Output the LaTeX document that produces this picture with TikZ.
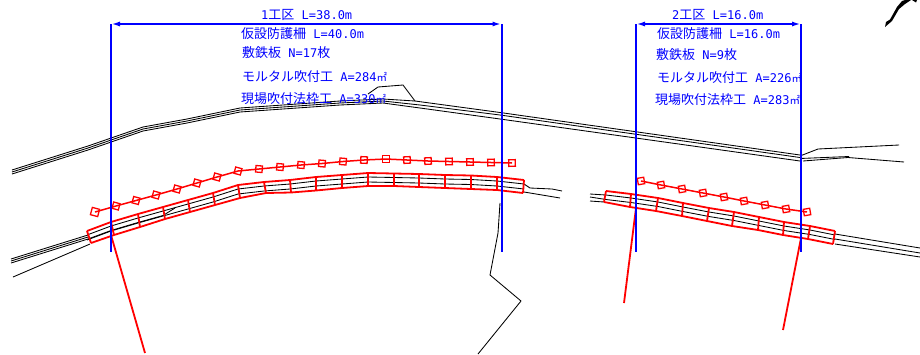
\documentclass[tikz,border=0pt]{standalone}
\usepackage{fontspec}
\newfontfamily\jpfont{Noto Sans CJK JP}
\newfontfamily\latf{DejaVu Sans Mono}
\newcommand{\lat}[1]{{\latf\fontsize{12}{12}\selectfont #1}}
\newcommand{\sqm}{{\fontsize{10.5}{10.5}\selectfont ㎡}}
\usetikzlibrary{arrows.meta}
\tikzset{
  blk/.style={draw=black,line width=0.85pt,line join=round},
  redl/.style={draw=red,line width=1.8pt,line join=miter},
  bluel/.style={draw=blue,line width=2pt},
  dimen/.style={bluel,{Latex[length=9pt,width=5pt]}-{Latex[length=9pt,width=5pt]}},
  lbl/.style={text=blue,anchor=west,inner sep=0pt,font=\jpfont\fontsize{13}{13}\selectfont},
  post/.style={draw=red,line width=1.3pt,minimum size=6.5pt,inner sep=0pt,rectangle},
}
\newcommand{\edgeOne}{(87,231) -- (111,222) -- (138,214) -- (163,207) -- (188,200) -- (213,193) -- (238,185) -- (264,182) -- (290,180) -- (316,177) -- (342,175) -- (368,173) -- (394,173.5) -- (419,174) -- (445,175) -- (471,175.5) -- (497,177) -- (524,180)}
\newcommand{\edgeOneB}{(91,243) -- (114,235) -- (140,227) -- (165,219) -- (190,212) -- (215,205) -- (240,198) -- (266,193) -- (291,192.5) -- (316,190.5) -- (342,188) -- (368,186) -- (394,186) -- (419,187) -- (445,188) -- (471,189) -- (497,190) -- (523,193)}
\newcommand{\edgeTwo}{(606,191) -- (631,194) -- (658,198) -- (683,203) -- (709,208) -- (734,212) -- (759,217) -- (784,222) -- (810,226) -- (835,231)}
\newcommand{\edgeTwoB}{(604,202) -- (630,207) -- (656,211) -- (682,216) -- (707,221) -- (732,226) -- (758,230) -- (783,235) -- (808,239) -- (833,244)}
\begin{document}
\begin{tikzpicture}[x=1pt,y=-1pt]
\useasboundingbox (0,0) rectangle (920,354);
% upper road
\draw[blk] (12,170) -- (88,146) -- (143,127) -- (187,119) -- (240,108) -- (340,101) -- (383,99) -- (415,101) -- (500,112.5) -- (800,155);
\draw[blk] (12,172) -- (88,148) -- (143,129) -- (187,121) -- (240,110) -- (340,103) -- (383,101) -- (420,105) -- (500,115) -- (800,157.5);
\draw[blk] (12,174) -- (88,150) -- (143,131) -- (187,123) -- (240,112) -- (340,105) -- (383,103) -- (420,108) -- (500,119) -- (800,161);
\draw[blk] (368,94) -- (378,87) -- (403,85) -- (415,101);
\draw[blk] (800,156) -- (818,149) -- (899,145);
\draw[blk] (800,158.5) -- (849,156.5);
\draw[blk] (803,161) -- (848,157.5) -- (904,162);
% lower road
\draw[blk] (11,259) -- (88,235);
\draw[blk] (11,261) -- (88,237);
\draw[blk] (11,263) -- (88,239);
\draw[blk] (13,277) -- (90,244);
\begin{scope}
\clip (87,170) rectangle (524,240);
\draw[blk,yshift=-4pt] \edgeOne;
\draw[blk,yshift=-9pt] \edgeOne;
\end{scope}
\draw[blk] (88,239) -- (111,230.5) -- (138,222.5) -- (163,215.5) -- (175,208);
\draw[blk] (524,184) -- (530,188) -- (552,189) -- (562,191);
\draw[blk] (524,192) -- (560,198);
\draw[blk] (590,194) -- (606,195);
\draw[blk] (590,197) -- (606,199.5);
\draw[blk] (590,201) -- (604,202);
\draw[blk,yshift=-4pt] \edgeTwo;
\draw[blk,yshift=-8.5pt] \edgeTwo;
\draw[blk] (835,234) -- (920,248);
\draw[blk] (835,239) -- (920,253);
\draw[blk] (835,244) -- (920,257);
% cliff line
\draw[blk] (500,203) -- (498,233) -- (490,275) -- (521,301) -- (478,354);
% blocks strip 1
\draw[redl] (87,231) -- (91,243);
\draw[redl] \edgeOne; \draw[redl] \edgeOneB;
\foreach \a/\b/\c/\d in {111/222/114/235,138/214/140/227,163/207/165/219,188/200/190/212,213/193/215/205,238/185/240/198,264/182/266/193,290/180/291/192.5,316/177/316/190.5,342/175/342/188,368/173/368/186,394/173.5/394/186,419/174/419/187,445/175/445/188,471/175.5/471/189,497/177/497/190,524/180/523/193}
  \draw[redl] (\a,\b) -- (\c,\d);
% blocks strip 2
\draw[redl] (606,191) -- (604,202);
\draw[redl] \edgeTwo; \draw[redl] \edgeTwoB;
\foreach \a/\b/\c/\d in {631/194/630/207,658/198/656/211,683/203/682/216,709/208/707/221,734/212/732/226,759/217/758/230,784/222/783/235,810/226/808/239,835/231/833/244}
  \draw[redl] (\a,\b) -- (\c,\d);
% fence 1
\node[post,rotate=-15,minimum size=7.5pt] (p95) at (95,212) {};
\foreach \x/\y/\r [remember=\x as \px (initially 95)] in {116/206/-15,136/200.5/-15,156/195/-15,177/189/-15,197/183/-15,217/177/-15,238/171/-15,259/169/-5,280/167/-5,301/165/-5,322/163.5/-5,343/161.5/-5,364/160/-3,386/159/0,407/160/3,428/161/3,449/161.5/2,470/162/2,491/162.5/2,512/163/2}{
  \node[post,rotate=\r] (p\x) at (\x,\y) {};
  \draw[redl,line width=1.5pt] (p\px.center) -- (p\x.center);
}
% fence 2
\node[post,rotate=10] (q641) at (641,181) {};
\foreach \x/\y/\r [remember=\x as \px (initially 641)] in {661/185/10,682/189/10,703/193/10,724/197/10,744/201/10,765/205/10,786/209/10,807/212/10}{
  \node[post,rotate=\r] (q\x) at (\x,\y) {};
  \draw[redl,line width=1.5pt] (q\px.center) -- (q\x.center);
}
% legs
\coordinate (l1a) at (111,235); \coordinate (l1b) at (145,353);
\coordinate (l2a) at (636,208); \coordinate (l2b) at (624,303);
\coordinate (l3a) at (801,238); \coordinate (l3b) at (783,330);
\draw[redl] (l1a) -- (l1b);
\draw[redl] (l2a) -- (l2b);
\draw[redl] (l3a) -- (l3b);
% blue dimensions
\coordinate (a1) at (111,24); \coordinate (a2) at (501.5,24);
\coordinate (a1e) at (111,252); \coordinate (a2e) at (501.5,252);
\coordinate (b1) at (636,24); \coordinate (b2) at (801,24);
\coordinate (b1e) at (636,252); \coordinate (b2e) at (801,252);
\draw[bluel] (a1) -- (a1e);
\draw[bluel] (a2) -- (a2e);
\draw[bluel] (b1) -- (b1e);
\draw[bluel] (b2) -- (b2e);
\draw[dimen] (a1) -- (a2);
\draw[dimen] (b1) -- (b2);
% labels
\node[lbl] (t1) at (261,15) {\lat{1}工区\lat{ L=38.0m}};
\node[lbl] (t2) at (241,34) {仮設防護柵\lat{ L=40.0m}};
\node[lbl] (t3) at (242,53) {敷鉄板\lat{ N=17}枚};
\node[lbl] (t4) at (242,77) {モルタル吹付工\lat{ A=284}\sqm};
\node[lbl] (t5) at (241,99) {現場吹付法枠工\lat{ A=330}\sqm};
\node[lbl] (u1) at (672,15) {\lat{2}工区\lat{ L=16.0m}};
\node[lbl] (u2) at (657,34) {仮設防護柵\lat{ L=16.0m}};
\node[lbl] (u3) at (656,55) {敷鉄板\lat{ N=9}枚};
\node[lbl] (u4) at (657,78) {モルタル吹付工\lat{ A=226}\sqm};
\node[lbl] (u5) at (655,100) {現場吹付法枠工\lat{ A=283}\sqm};
% north mark
\fill[black] (885,27) -- (886,22) -- (890,19.5) -- (897,7) -- (902,1) -- (905,0) -- (911,0) -- (905,4) -- (899,9) -- (892,21) -- cycle;
\fill[black] (912,0) -- (917,0) -- (916,2.5) -- cycle;
\end{tikzpicture}
\end{document}
